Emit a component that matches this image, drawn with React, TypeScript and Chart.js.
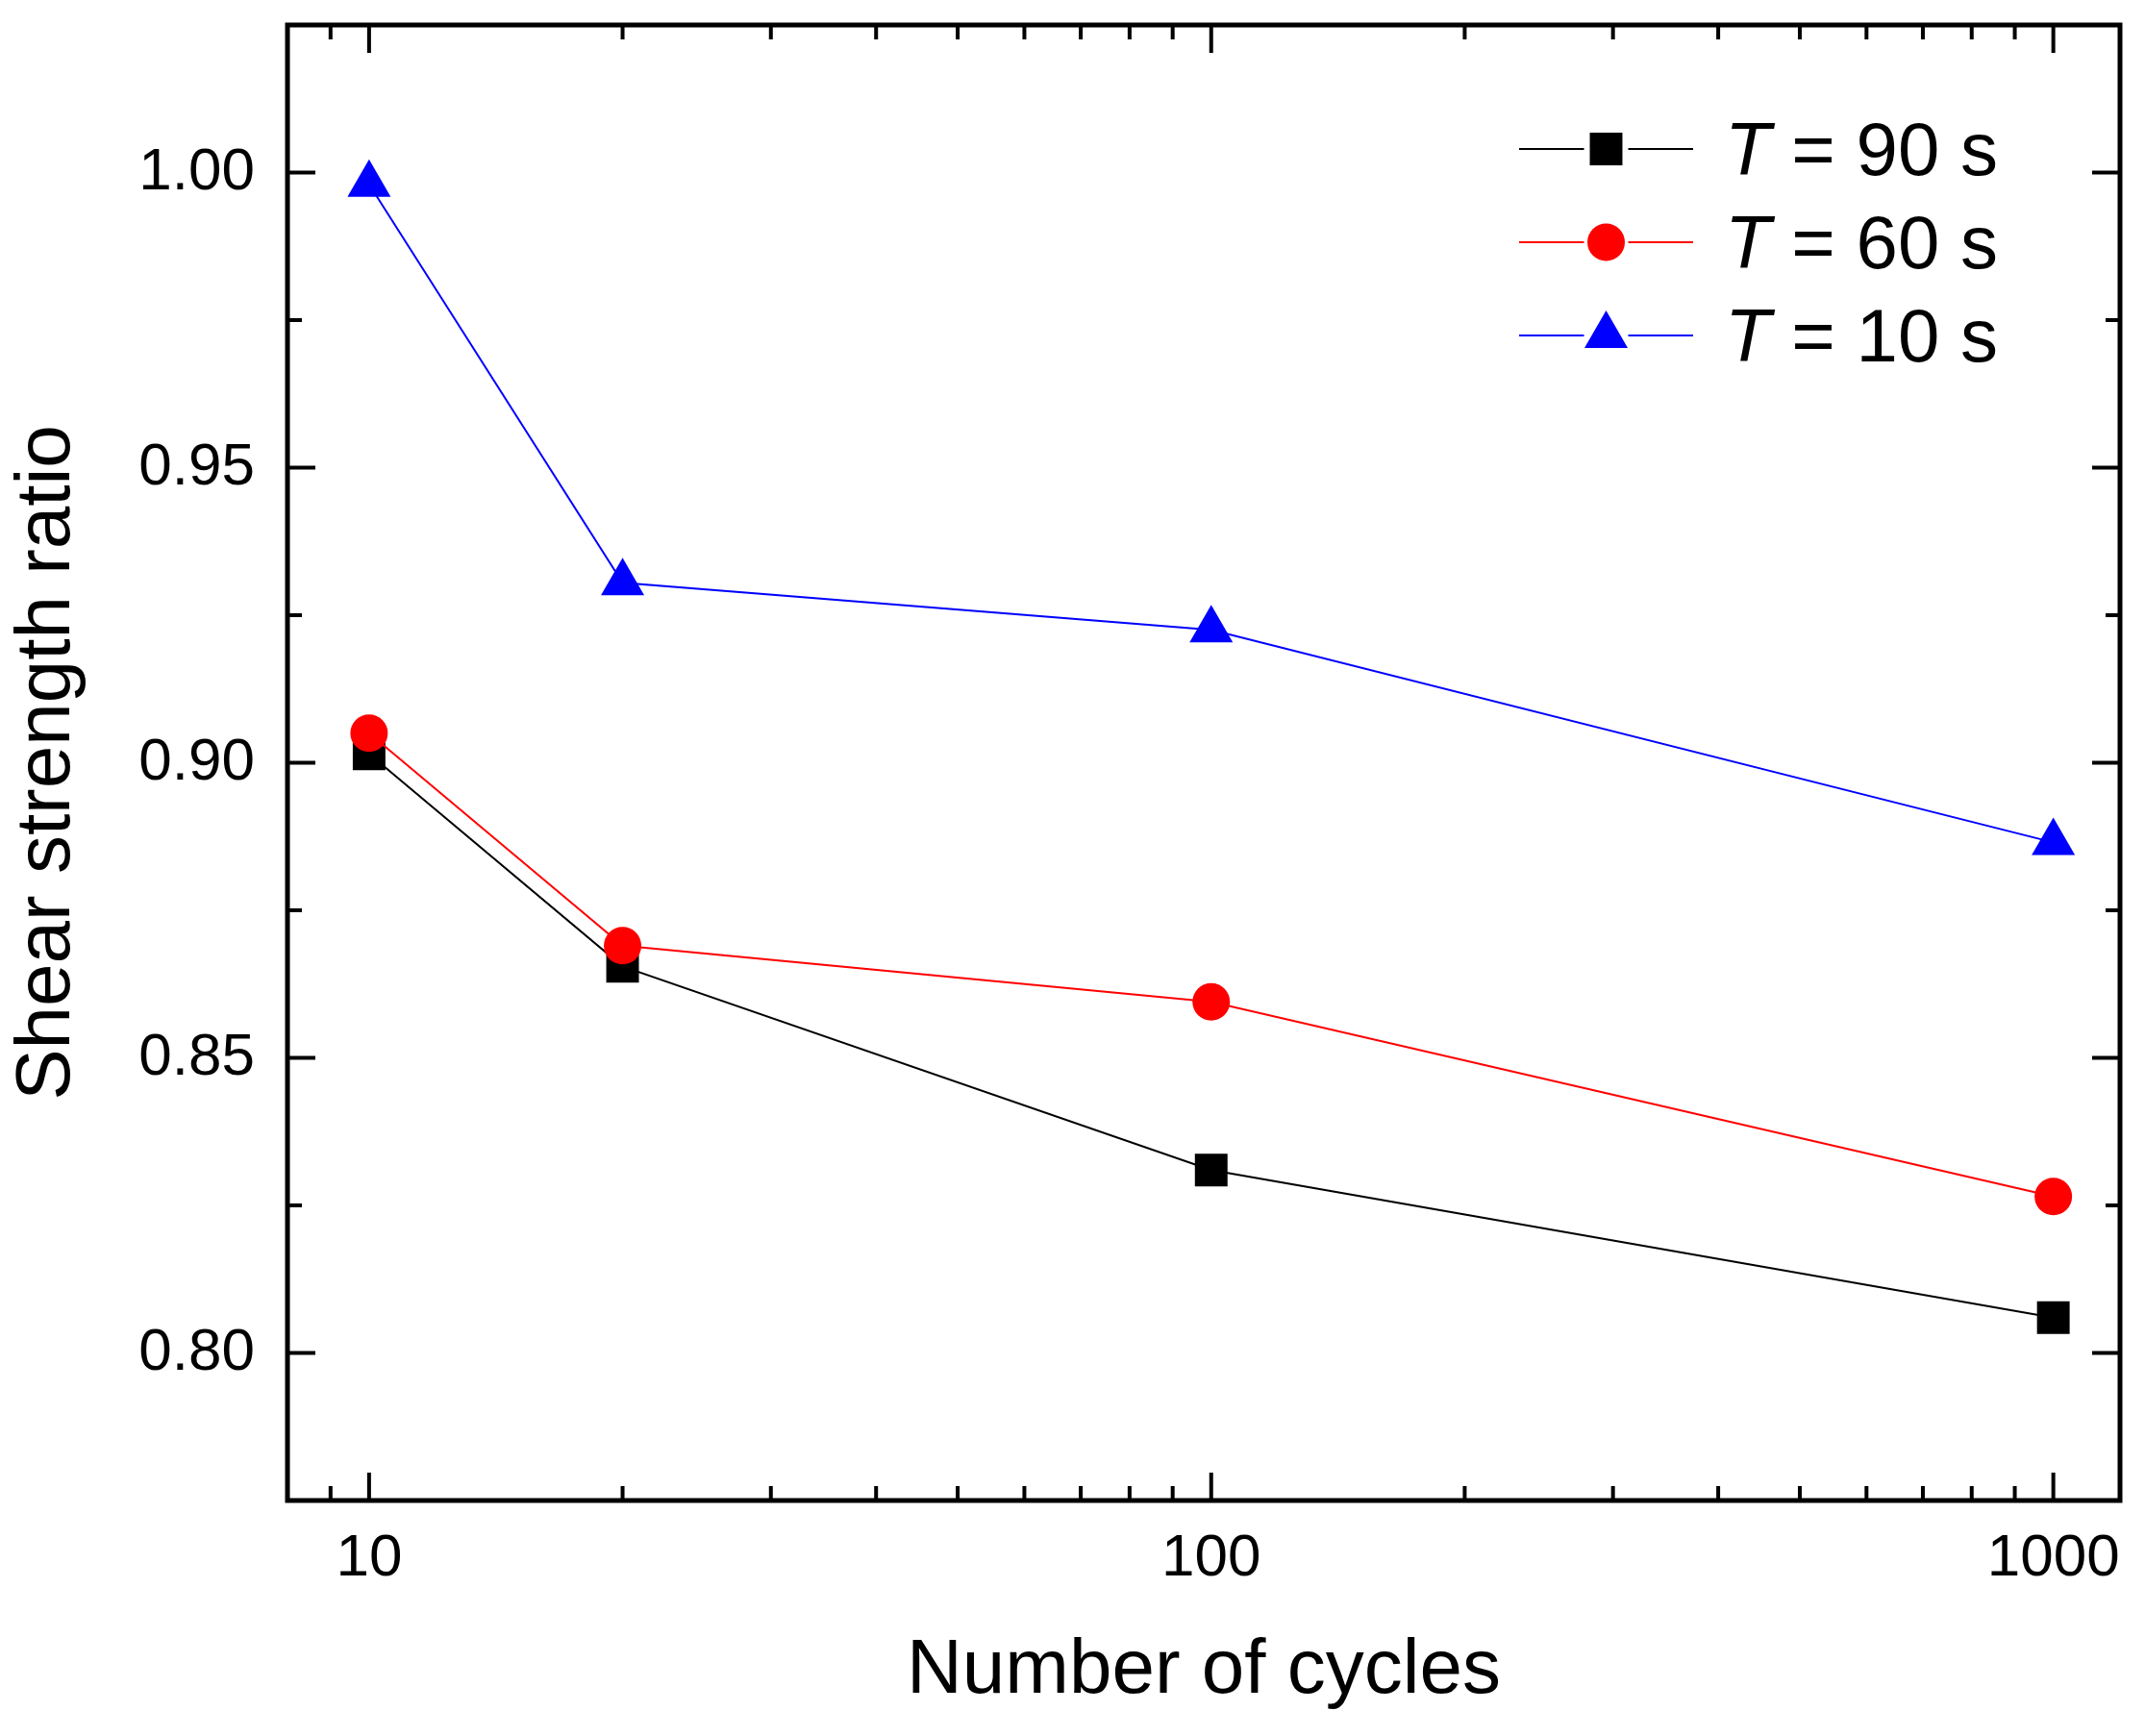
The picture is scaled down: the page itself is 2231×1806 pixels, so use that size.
import { useEffect, useRef } from 'react';
import { Chart, registerables } from 'chart.js';

Chart.register(...registerables);

const FONT = '"Liberation Sans", Arial, Helvetica, sans-serif';

// number of cycles (x) and shear strength ratio per period T
const cycles = [10, 20, 100, 1000];
const seriesLabels = ['T = 90 s', 'T = 60 s', 'T = 10 s'];
const ratioT90 = [0.9015, 0.8655, 0.831, 0.806];
const ratioT60 = [0.905, 0.869, 0.8595, 0.8265];
const ratioT10 = [0.998, 0.9305, 0.9225, 0.8865];

const yMajorTicks = [0.8, 0.85, 0.9, 0.95, 1.0];
const yMinorTicks = [0.825, 0.875, 0.925, 0.975];
const xMajorTicks = [10, 100, 1000];
const xMinorTicks = [9, 20, 30, 40, 50, 60, 70, 80, 90, 200, 300, 400, 500, 600, 700, 800, 900];

const toPoints = (ys: number[]) => cycles.map((c, i) => ({ x: c, y: ys[i] }));

// no extra room for labels at the ends of the axes
const clearPadding = (scale: any) => {
  scale.paddingTop = 0;
  scale.paddingBottom = 0;
  scale.paddingLeft = 0;
  scale.paddingRight = 0;
};

// box around the plot with inward ticks on all four sides
const frameTicks = {
  id: 'frameTicks',
  afterDraw(chart: any) {
    const { ctx, chartArea, scales } = chart;
    const { left, right, top, bottom } = chartArea;
    const x = scales.x;
    const y = scales.y;
    ctx.save();
    ctx.strokeStyle = '#000';
    ctx.lineWidth = 4;
    ctx.beginPath();
    const tickX = (v: number, len: number) => {
      const px = x.getPixelForValue(v);
      ctx.moveTo(px, bottom);
      ctx.lineTo(px, bottom - len);
      ctx.moveTo(px, top);
      ctx.lineTo(px, top + len);
    };
    const tickY = (v: number, len: number) => {
      const py = y.getPixelForValue(v);
      ctx.moveTo(left, py);
      ctx.lineTo(left + len, py);
      ctx.moveTo(right, py);
      ctx.lineTo(right - len, py);
    };
    xMajorTicks.forEach((v) => tickX(v, 29));
    xMinorTicks.forEach((v) => tickX(v, 15));
    yMajorTicks.forEach((v) => tickY(v, 29));
    yMinorTicks.forEach((v) => tickY(v, 15));
    ctx.stroke();
    ctx.lineWidth = 5;
    ctx.strokeRect(left, top, right - left, bottom - top);
    ctx.restore();
  },
};

// legend inside the plot: line - marker - line, italic T
const insideLegend = {
  id: 'insideLegend',
  afterDraw(chart: any) {
    const { ctx, chartArea } = chart;
    const x0 = chartArea.right - 625;
    const x1 = chartArea.right - 444;
    const xm = (x0 + x1) / 2;
    const textX = chartArea.right - 411;
    ctx.save();
    chart.data.datasets.forEach((ds: any, i: number) => {
      const yc = chartArea.top + 129 + i * 97;
      ctx.strokeStyle = ds.borderColor;
      ctx.fillStyle = ds.backgroundColor;
      ctx.lineWidth = 2;
      ctx.beginPath();
      ctx.moveTo(x0, yc);
      ctx.lineTo(xm - 23, yc);
      ctx.moveTo(xm + 23, yc);
      ctx.lineTo(x1, yc);
      ctx.stroke();
      const r = ds.pointRadius;
      ctx.beginPath();
      if (ds.pointStyle === 'rect') {
        const s = r * Math.SQRT1_2;
        ctx.rect(xm - s, yc - s, 2 * s, 2 * s);
      } else if (ds.pointStyle === 'circle') {
        ctx.arc(xm, yc, r, 0, Math.PI * 2);
      } else {
        ctx.moveTo(xm, yc - r);
        ctx.lineTo(xm + r * 0.866, yc + r * 0.5);
        ctx.lineTo(xm - r * 0.866, yc + r * 0.5);
        ctx.closePath();
      }
      ctx.fill();
      const label: string = ds.label;
      const sym = label.slice(0, 1);
      const rest = label.slice(1);
      ctx.fillStyle = '#000';
      ctx.textBaseline = 'alphabetic';
      ctx.textAlign = 'left';
      ctx.font = `italic 78px ${FONT}`;
      ctx.fillText(sym, textX, yc + 27);
      const w = ctx.measureText(sym).width;
      ctx.font = `78px ${FONT}`;
      ctx.fillText(rest, textX + w, yc + 27);
    });
    ctx.restore();
  },
};

const App = () => {
  const canvasRef = useRef<HTMLCanvasElement | null>(null);
  const chartRef = useRef<Chart | null>(null);

  useEffect(() => {
    if (!canvasRef.current) return;
    if (chartRef.current) chartRef.current.destroy();

    chartRef.current = new Chart(canvasRef.current, {
      type: 'line',
      data: {
        datasets: [
          {
            label: seriesLabels[0],
            data: toPoints(ratioT90),
            borderColor: '#000000',
            backgroundColor: '#000000',
            borderWidth: 2,
            pointStyle: 'rect',
            pointRadius: 24,
            pointBorderWidth: 0,
            order: 1,
          },
          {
            label: seriesLabels[1],
            data: toPoints(ratioT60),
            borderColor: '#ff0000',
            backgroundColor: '#ff0000',
            borderWidth: 2,
            pointStyle: 'circle',
            pointRadius: 19.5,
            pointBorderWidth: 0,
            order: 0,
          },
          {
            label: seriesLabels[2],
            data: toPoints(ratioT10),
            borderColor: '#0000ff',
            backgroundColor: '#0000ff',
            borderWidth: 2,
            pointStyle: 'triangle',
            pointRadius: 26,
            pointBorderWidth: 0,
            order: 2,
          },
        ],
      },
      options: {
        responsive: true,
        maintainAspectRatio: false,
        animation: false,
        layout: { padding: { left: 0, top: 26, right: 26, bottom: 0 } },
        plugins: {
          legend: { display: false },
          tooltip: { enabled: false },
        },
        scales: {
          x: {
            type: 'logarithmic',
            min: 8,
            max: 1200,
            grid: { display: false, drawTicks: false },
            border: { display: false },
            afterBuildTicks: (scale: any) => {
              scale.ticks = xMajorTicks.map((v) => ({ value: v }));
            },
            afterFit: (scale: any) => {
              scale.height = 245;
              clearPadding(scale);
            },
            ticks: {
              padding: 24,
              color: '#000',
              font: { family: FONT, size: 62 },
              maxRotation: 0,
              callback: (v: any) => String(v),
            },
            title: {
              display: true,
              text: 'Number of cycles',
              color: '#000',
              font: { family: FONT, size: 80 },
              padding: { top: 0, bottom: 19 },
            },
          },
          y: {
            min: 0.775,
            max: 1.025,
            grid: { display: false, drawTicks: false },
            border: { display: false },
            afterBuildTicks: (scale: any) => {
              scale.ticks = yMajorTicks.map((v) => ({ value: v }));
            },
            afterFit: (scale: any) => {
              scale.width = 299;
              clearPadding(scale);
            },
            ticks: {
              padding: 34,
              color: '#000',
              font: { family: FONT, size: 62 },
              callback: (v: any) => Number(v).toFixed(2),
            },
            title: {
              display: true,
              text: 'Shear strength ratio',
              color: '#000',
              font: { family: FONT, size: 80 },
              padding: { top: 2, bottom: 0 },
            },
          },
        },
      },
      plugins: [frameTicks, insideLegend],
    } as any);

    return () => {
      if (chartRef.current) {
        chartRef.current.destroy();
        chartRef.current = null;
      }
    };
  }, []);

  return (
    <div style={{ position: 'absolute', left: 0, top: 0, width: 2231, height: 1806, background: '#fff' }}>
      <canvas ref={canvasRef} />
    </div>
  );
};

export default App;
